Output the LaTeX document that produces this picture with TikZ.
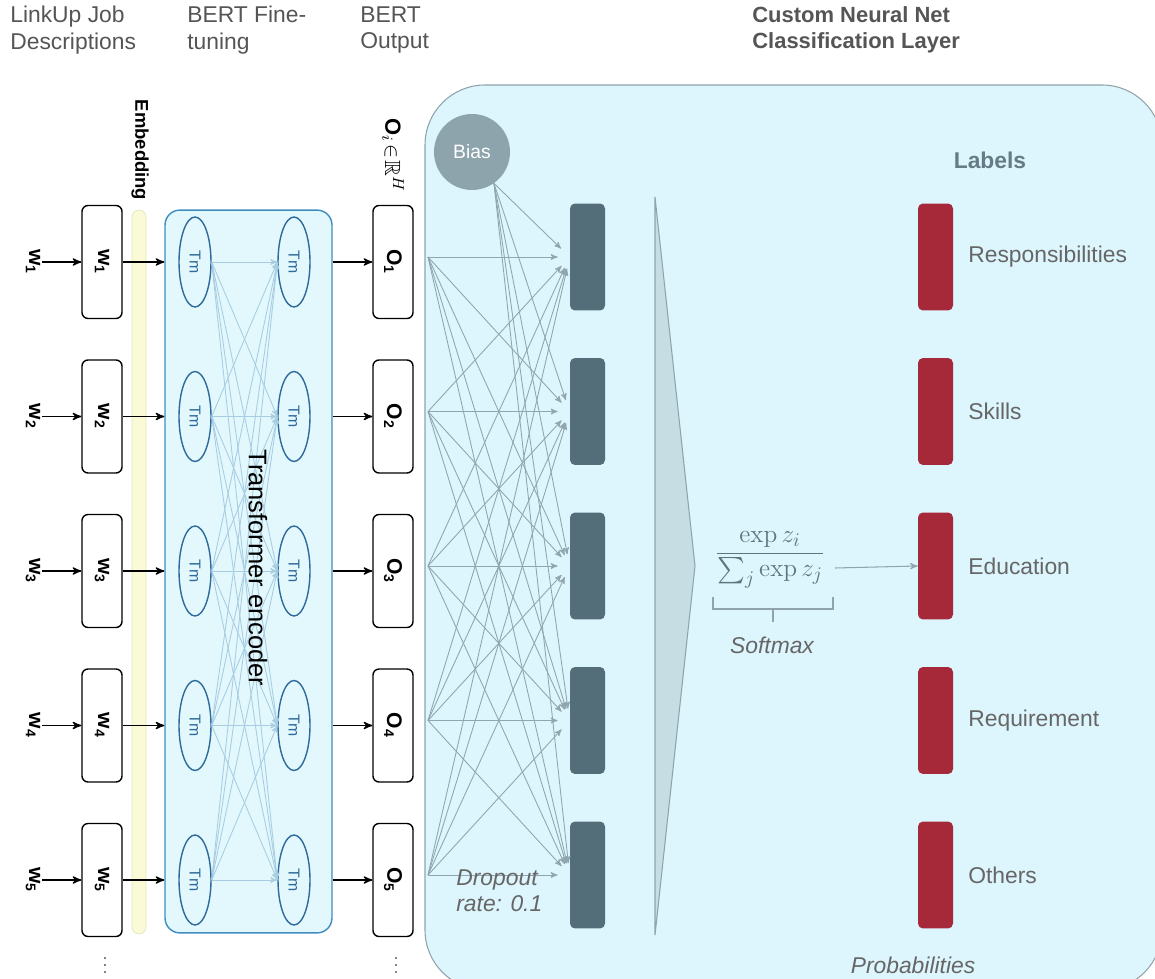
\documentclass[tikz,border=0pt]{standalone}
\usepackage{amsmath,amssymb}
\usepackage[no-math]{fontspec}
\usepackage{graphicx}
\setmainfont{Liberation Sans}
\usetikzlibrary{arrows,shapes}

\definecolor{panelfill}{HTML}{DDF5FC}
\definecolor{paneldraw}{HTML}{8FA3AA}
\definecolor{encfill}{HTML}{E2F8FC}
\definecolor{encdraw}{HTML}{3F8DC0}
\definecolor{tmblue}{HTML}{2F6A9C}
\definecolor{attn}{HTML}{A8CDE2}
\definecolor{embfill}{HTML}{FBFAD6}
\definecolor{embdraw}{HTML}{E3E6B8}
\definecolor{biasfill}{HTML}{8DA4AD}
\definecolor{densefill}{HTML}{546E79}
\definecolor{labelred}{HTML}{A6293A}
\definecolor{wire}{HTML}{8FA6AE}
\definecolor{chevfill}{HTML}{C6DDE4}
\definecolor{headgray}{HTML}{555555}
\definecolor{textgray}{HTML}{666666}
\definecolor{mathgray}{HTML}{5E757D}

\begin{document}
\begin{tikzpicture}[x=0.02cm,y=-0.02cm,>=stealth',
  head/.style={anchor=north west,align=left,inner sep=0pt,text=headgray,font=\fontsize{13}{15}\selectfont},
  wlabel/.style={rotate=-90,inner sep=1pt,font=\fontsize{12}{12}\selectfont\bfseries},
  tokbox/.style={draw,rounded corners=0.12cm,line width=0.8pt,minimum width=0.8cm,minimum height=2.26cm,inner sep=0pt,fill=white,font=\fontsize{12}{12}\selectfont\bfseries},
  tm/.style={ellipse,draw=tmblue,line width=0.8pt,fill=encfill,minimum width=0.64cm,minimum height=1.8cm,inner sep=0pt,text=tmblue,font=\fontsize{9}{9}\selectfont},
  dense/.style={fill=densefill,rounded corners=0.1cm,minimum width=0.7cm,minimum height=2.14cm},
  outbox/.style={fill=labelred,rounded corners=0.1cm,minimum width=0.7cm,minimum height=2.14cm},
  classname/.style={anchor=west,inner sep=0pt,text=textgray,font=\fontsize{13}{13}\selectfont},
  attnwire/.style={->,draw=attn,line width=0.5pt},
  densewire/.style={->,draw=wire,line width=0.5pt,shorten >=0.24cm},
  feed/.style={->,line width=0.8pt}]
  \useasboundingbox (0,0) rectangle (1155,979);
  \clip (0,0) rectangle (1155,979);

  % column headings
  \node[head] (hjob) at (10,6) {LinkUp Job\\Descriptions};
  \node[head] (hbert) at (187,6) {BERT Fine-\\tuning};
  \node[head] (hout) at (360,6) {BERT\\Output};
  \node[head,font=\fontsize{12.5}{15}\selectfont\bfseries] (hcls) at (752,6) {Custom Neural Net\\Classification Layer};

  % classification panel
  \path[draw=paneldraw,fill=panelfill,line width=0.6pt,rounded corners=1.2cm] (425,85) rectangle (1162,990);
  \path[draw=paneldraw,fill=chevfill,line width=0.6pt] (655,197) -- (695,566) -- (655,935) -- cycle;

  % embedding and encoder
  \node[draw=embdraw,fill=embfill,rounded corners=0.14cm,minimum width=0.28cm,minimum height=14.48cm] (emb) at (139,572) {};
  \node[rotate=-90,font=\fontsize{10.5}{10.5}\selectfont\bfseries] (embl) at (140,150) {Embedding};
  \node[draw=encdraw,fill=encfill,line width=0.8pt,rounded corners=0.3cm,minimum width=3.34cm,minimum height=14.46cm] (enc) at (248.5,571.5) {};

  \foreach \i/\y in {1/262,2/416.5,3/571,4/725.5,5/880} {
    \node[wlabel] (wl\i) at (33,\y) {w\textsubscript{\i}};
    \node[tokbox] (w\i) at (102,\y) {\rotatebox{-90}{w\textsubscript{\i}}};
    \node[tm] (tl\i) at (195,\y) {\rotatebox{-90}{Tm}};
    \node[tm] (tr\i) at (294,\y) {\rotatebox{-90}{Tm}};
    \node[tokbox] (o\i) at (393,\y) {\rotatebox{-90}{O\textsubscript{\i}}};
    \coordinate (s\i) at (428,\y-5);
    \node[dense] (d\i) at (587.5,\y-5) {};
    \node[outbox] (c\i) at (935.5,\y-5) {};
    \draw[feed] (wl\i) -- (w\i);
    \draw[feed] (w\i.east) -- (w\i.east -| enc.west);
    \draw[feed] (tr\i.east -| enc.east) -- (o\i.west);
  }
  \foreach \i in {1,...,5}
    \foreach \j in {1,...,5}
      \draw[attnwire] (tl\i.east) -- (tr\j.west);
  \node[rotate=-90,font=\fontsize{14.5}{14.5}\selectfont] (encl) at (258,568) {Transformer encoder};
  \node[rotate=-90,font=\fontsize{12.5}{12.5}\selectfont] (ol) at (393,155) {\textbf{O}$_{i}\!\in\!\mathbb{R}^{H}$};

  % dense layer
  \node[circle,fill=biasfill,minimum size=1.52cm,text=white,font=\fontsize{11}{11}\selectfont] (bias) at (472,152) {Bias};
  \foreach \j in {1,...,5} {
    \foreach \i in {1,...,5}
      \draw[densewire] (s\i) -- (d\j.west);
    \draw[densewire] (bias.-55) -- (d\j.west);
  }
  \node[align=left,anchor=west,inner sep=0pt,text=textgray,font=\fontsize{13}{15}\selectfont\itshape] (drop) at (456,891) {Dropout\\rate: 0.1};

  % softmax
  \node[text=mathgray,font=\fontsize{15}{15}\selectfont] (soft) at (770,560) {$\dfrac{\exp z_i}{\sum_j \exp z_j}$};
  \path[draw=paneldraw,line width=0.6pt] (713,597) -- (713,609) -- (833,609) -- (833,597);
  \path[draw=paneldraw,line width=0.6pt] (773,609) -- (773,622);
  \node[text=textgray,font=\fontsize{13}{13}\selectfont\itshape] (softl) at (772,645) {Softmax};
  \draw[->,draw=wire,line width=0.6pt] (835,568) -- (c3.west);

  % labels
  \node[text=densefill!90,font=\fontsize{13}{13}\selectfont\bfseries] (lab) at (990,160) {Labels};
  \node[classname] (n1) at (968,257) {Responsibilities};
  \node[classname] (n2) at (968,411.5) {Skills};
  \node[classname] (n3) at (968,566) {Education};
  \node[classname] (n4) at (968,720.5) {Requirement};
  \node[classname] (n5) at (968,875) {Others};
  \node[text=textgray,font=\fontsize{13}{13}\selectfont\itshape] (prob) at (913,965) {Probabilities};

  \node[text=textgray] (wdots) at (105,960) {$\vdots$};
  \node[text=textgray] (odots) at (396,960) {$\vdots$};
\end{tikzpicture}
\end{document}
